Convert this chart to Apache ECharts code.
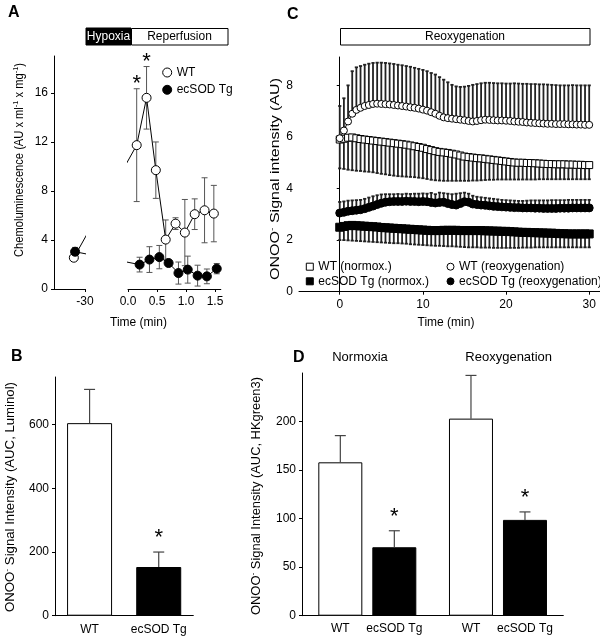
<!DOCTYPE html>
<html><head><meta charset="utf-8">
<script src="https://cdn.jsdelivr.net/npm/echarts@6/dist/echarts.min.js"></script>
<style>html,body{margin:0;padding:0;background:#fff}#c{width:600px;height:637px}</style>
</head><body><div id="c"></div>
<script>
// ---------- Panel A data ----------
const aTimeWT = [-31.8, 0.15, 0.32, 0.48, 0.65, 0.82, 0.98, 1.15, 1.32, 1.48];
const aWT     = [2.55, 11.73, 15.59, 9.69, 4.03, 5.33, 4.6, 6.1, 6.42, 6.15];
const aWTsd   = [0.2, 4.6, 2.55, 2.3, 1.6, 0.48, 2.7, 1.25, 2.65, 2.3];
const aTimeTg = [-31.6, 0.2, 0.37, 0.54, 0.7, 0.87, 1.03, 1.2, 1.36, 1.53];
const aTg     = [3.04, 1.99, 2.4, 2.6, 2.12, 1.3, 1.58, 1.09, 1.03, 1.66];
const aTgSd   = [0.35, 0.6, 1.05, 0.95, 0.15, 0.9, 1.1, 0.85, 0.6, 0.42];
const aStarWT = [1, 2];
const aXTicksLeft = [-30];
const aXTicksRight = [0, 0.5, 1.0, 1.5];
const aYTicks = [0, 4, 8, 12, 16];

// ---------- Panel C data ----------
const cTime = [0,0.5,1,1.5,2,2.5,3,3.5,4,4.5,5,5.5,6,6.5,7,7.5,8,8.5,9,9.5,10,10.5,11,11.5,12,12.5,13,13.5,14,14.5,15,15.5,16,16.5,17,17.5,18,18.5,19,19.5,20,20.5,21,21.5,22,22.5,23,23.5,24,24.5,25,25.5,26,26.5,27,27.5,28,28.5,29,29.5,30];
const cWTreox = [5.95,6.25,6.6,6.9,7.05,7.13,7.2,7.24,7.28,7.29,
 7.28,7.27,7.26,7.24,7.22,7.2,7.18,7.15,7.13,7.1,
 7.06,7.02,6.96,6.9,6.82,6.76,6.73,6.71,6.69,6.67,
 6.65,6.62,6.6,6.62,6.65,6.67,6.66,6.65,6.64,6.64,
 6.63,6.62,6.6,6.59,6.58,6.56,6.55,6.54,6.53,6.52,
 6.51,6.51,6.5,6.5,6.5,6.49,6.49,6.48,6.48,6.47,6.47];
const cWTreoxTop = [7.2,7.5,8.0,8.55,8.7,8.75,8.8,8.84,8.87,8.88,
 8.88,8.87,8.85,8.83,8.8,8.78,8.75,8.72,8.68,8.64,
 8.6,8.55,8.48,8.42,8.32,8.22,8.12,8.02,7.96,7.94,
 7.95,7.98,8.02,8.05,8.08,8.1,8.1,8.09,8.08,8.08,
 8.07,8.07,8.08,8.07,8.06,8.06,8.05,8.05,8.04,8.04,
 8.03,8.02,8.01,8.0,8.0,8.0,8.01,8.0,8.0,8.0,8.0];
const cWTnorm = [5.9,5.93,5.97,5.98,5.95,5.92,5.9,5.88,5.86,5.84,
 5.82,5.8,5.78,5.76,5.74,5.72,5.7,5.67,5.64,5.61,
 5.58,5.53,5.49,5.45,5.42,5.4,5.38,5.35,5.32,5.28,
 5.24,5.22,5.2,5.18,5.17,5.15,5.13,5.11,5.09,5.07,
 5.05,5.03,5.01,5.0,5.0,4.99,4.99,4.98,4.97,4.96,
 4.95,4.95,4.94,4.94,4.94,4.93,4.93,4.92,4.92,4.91,4.91];
const cWTnormLow = [4.78,4.76,4.73,4.71,4.69,4.68,4.66,4.65,4.63,4.6,
 4.57,4.55,4.52,4.5,4.48,4.47,4.46,4.45,4.44,4.42,
 4.4,4.37,4.34,4.32,4.31,4.3,4.3,4.3,4.3,4.3,
 4.3,4.3,4.31,4.31,4.32,4.33,4.34,4.34,4.35,4.35,
 4.35,4.35,4.35,4.35,4.35,4.35,4.35,4.35,4.36,4.36,
 4.36,4.36,4.36,4.36,4.36,4.36,4.36,4.36,4.36,4.36,4.36];
const cTgReox = [3.05,3.08,3.12,3.14,3.16,3.18,3.22,3.27,3.32,3.38,
 3.43,3.47,3.49,3.5,3.5,3.5,3.51,3.5,3.5,3.49,
 3.5,3.49,3.46,3.44,3.46,3.47,3.42,3.38,3.36,3.42,
 3.49,3.47,3.4,3.38,3.36,3.35,3.33,3.31,3.3,3.29,
 3.28,3.27,3.26,3.26,3.25,3.25,3.25,3.24,3.24,3.23,
 3.23,3.23,3.23,3.24,3.24,3.24,3.25,3.25,3.25,3.25,3.25];
const cTgReoxTop = [3.48,3.5,3.53,3.54,3.55,3.56,3.6,3.65,3.7,3.74,
 3.77,3.78,3.78,3.78,3.79,3.78,3.8,3.79,3.8,3.8,
 3.81,3.8,3.83,3.78,3.84,3.82,3.8,3.78,3.8,3.82,
 3.84,3.8,3.72,3.68,3.66,3.64,3.62,3.6,3.58,3.56,
 3.55,3.54,3.53,3.52,3.52,3.53,3.54,3.54,3.54,3.54,
 3.54,3.55,3.55,3.55,3.55,3.56,3.56,3.56,3.56,3.56,3.56];
const cTgNorm = [2.5,2.53,2.56,2.57,2.56,2.55,2.54,2.53,2.52,2.51,
 2.49,2.48,2.47,2.46,2.45,2.44,2.43,2.42,2.41,2.4,
 2.39,2.38,2.37,2.37,2.37,2.38,2.38,2.38,2.38,2.37,
 2.37,2.37,2.37,2.37,2.37,2.36,2.36,2.35,2.35,2.34,
 2.34,2.33,2.32,2.31,2.3,2.3,2.29,2.29,2.28,2.28,
 2.27,2.27,2.26,2.25,2.25,2.24,2.24,2.24,2.24,2.24,2.24];
const cTgNormLow = [2.0,2.0,1.99,1.98,1.97,1.96,1.95,1.94,1.93,1.92,
 1.91,1.9,1.89,1.88,1.88,1.87,1.86,1.84,1.83,1.82,
 1.81,1.8,1.79,1.78,1.78,1.77,1.76,1.76,1.75,1.74,
 1.73,1.72,1.72,1.72,1.71,1.71,1.71,1.7,1.7,1.7,
 1.7,1.7,1.7,1.7,1.71,1.71,1.71,1.72,1.72,1.72,
 1.72,1.72,1.72,1.72,1.72,1.72,1.72,1.72,1.72,1.72,1.72];
const cXTicks = [0, 10, 20, 30];
const cYTicks = [0, 2, 4, 6, 8];

// ---------- Panel B data ----------
const bCats = ['WT', 'ecSOD Tg'];
const bMean = [605, 153];
const bSd = [106, 47];
const bStar = [false, true];
const bYTicks = [0, 200, 400, 600];

// ---------- Panel D data ----------
const dGroups = ['Normoxia', 'Reoxygenation'];
const dWT = [158, 203];
const dWTsd = [27.5, 44.5];
const dTg = [70.5, 98.7];
const dTgSd = [17, 8.2];
const dStarTg = [true, true];
const dYTicks = [0, 50, 100, 150, 200];

// ---------- layout / style ----------
const FF = '"Liberation Sans", Arial, Helvetica, sans-serif';
const GAL = {left: 54, top: 56, width: 31, height: 233, min: -35, max: -30};
const GAR = {left: 128, top: 56, width: 92.8, height: 233, min: 0, max: 1.6};
const GC  = {left: 299, top: 57, width: 301, height: 234.7};
const GB  = {left: 55, top: 377, width: 138.3, height: 238.7};
const GD  = {left: 302, top: 373, width: 261.3, height: 242.7};
const D_BAR_W = 44, D_GAP = 10;

const px = (g, v) => g.left + (v - g.min) / (g.max - g.min) * g.width;
const val = (g, p) => g.min + (p - g.left) / g.width * (g.max - g.min);

function errRender(o) {
  return function (params, api) {
    const x = api.value(0), lo = api.value(2), hi = api.value(3);
    const pl = api.coord([x, lo]), ph = api.coord([x, hi]);
    const cx = pl[0] + (o.offset || 0);
    const st = {stroke: o.color, lineWidth: o.width};
    const ch = [{type: 'line', shape: {x1: cx, y1: pl[1], x2: cx, y2: ph[1]}, style: st}];
    if (o.capHi) ch.push({type: 'line', shape: {x1: cx - o.cap, y1: ph[1], x2: cx + o.cap, y2: ph[1]}, style: st});
    if (o.capLo) ch.push({type: 'line', shape: {x1: cx - o.cap, y1: pl[1], x2: cx + o.cap, y2: pl[1]}, style: st});
    return {type: 'group', children: ch};
  };
}
function starRender(offset, gap) {
  return function (params, api) {
    const p = api.coord([api.value(0), api.value(1)]);
    return {type: 'text', x: p[0] + offset, y: p[1] - gap,
      style: {text: '*', fontSize: 22, fontFamily: FF, fill: '#000', align: 'center', verticalAlign: 'middle'}};
  };
}

const AXL = {show: true, lineStyle: {color: '#000', width: 1}};
function tick(vals) { return {show: true, length: 3, inside: false, lineStyle: {color: '#000', width: 1}, customValues: vals}; }
function lab(vals, margin, fmt) {
  const o = {color: '#000', fontSize: 12, fontFamily: FF, margin: margin, customValues: vals};
  if (fmt) o.formatter = fmt;
  return o;
}

// ---------- Panel A series ----------
const series = [];
function idxSplit(t) { const L = [], R = []; t.forEach((x, i) => (x < 0 ? L : R).push(i)); return {L, R}; }
function addA(name, t, m, sd, fill) {
  const {L, R} = idxSplit(t);
  [[L, 0], [R, 1]].forEach(([ids, gi]) => {
    series.push({type: 'custom', xAxisIndex: gi, yAxisIndex: gi, silent: true, z: 2,
      renderItem: errRender({color: '#555', width: 1, cap: 3, capHi: true, capLo: true}),
      data: ids.map(i => [t[i], m[i], m[i] - sd[i], m[i] + sd[i]])});
  });
  const lL = L[L.length - 1], fR = R[0];
  series.push({type: 'line', xAxisIndex: 0, yAxisIndex: 0, silent: true, symbol: 'none', z: 3, clip: true,
    lineStyle: {color: '#000', width: 1},
    data: [[t[lL], m[lL]], [val(GAL, px(GAR, t[fR])), m[fR]]]});
  series.push({type: 'line', xAxisIndex: 1, yAxisIndex: 1, silent: true, symbol: 'none', z: 3, clip: true,
    lineStyle: {color: '#000', width: 1},
    data: [[val(GAR, px(GAL, t[lL])), m[lL]], [t[fR], m[fR]]]});
  [[L, 0], [R, 1]].forEach(([ids, gi]) => {
    series.push({type: 'line', name: name, xAxisIndex: gi, yAxisIndex: gi, silent: true, z: 4,
      symbol: 'circle', symbolSize: 9, showAllSymbol: true,
      itemStyle: {color: fill, borderColor: '#000', borderWidth: 1},
      lineStyle: {color: '#000', width: 1},
      data: ids.map(i => [t[i], m[i]])});
  });
}
addA('WT', aTimeWT, aWT, aWTsd, '#fff');
addA('ecSOD Tg', aTimeTg, aTg, aTgSd, '#000');
series.push({type: 'custom', xAxisIndex: 1, yAxisIndex: 1, silent: true, z: 5,
  renderItem: starRender(0, 5),
  data: aStarWT.map(i => [aTimeWT[i], aWT[i] + aWTsd[i]])});

// ---------- Panel C series ----------
function addCErr(m, end, up) {
  series.push({type: 'custom', xAxisIndex: 2, yAxisIndex: 2, silent: true, z: 2,
    renderItem: errRender({color: '#222', width: 1.8, cap: 1.6, capHi: up, capLo: !up}),
    data: cTime.map((x, i) => up ? [x, m[i], m[i], end[i]] : [x, m[i], end[i], m[i]])});
}
addCErr(cWTreox, cWTreoxTop, true);
addCErr(cWTnorm, cWTnormLow, false);
addCErr(cTgReox, cTgReoxTop, true);
addCErr(cTgNorm, cTgNormLow, false);
function addCLine(name, m, sym, size, fill) {
  series.push({type: 'line', name: name, xAxisIndex: 2, yAxisIndex: 2, silent: true, z: 4,
    symbol: sym, symbolSize: size, showAllSymbol: true,
    itemStyle: {color: fill, borderColor: '#000', borderWidth: 1},
    lineStyle: {color: '#000', width: 1},
    data: cTime.map((x, i) => [x, m[i]])});
}
addCLine('WT (normox.)', cWTnorm, 'rect', 7, '#fff');
addCLine('WT (reoxygenation)', cWTreox, 'circle', 7, '#fff');
addCLine('ecSOD Tg (reoxygenation)', cTgReox, 'circle', 8, '#000');
addCLine('ecSOD Tg (normox.)', cTgNorm, 'rect', 8, '#000');

// ---------- Panel B series ----------
const bFill = ['#fff', '#000'];
series.push({type: 'bar', xAxisIndex: 3, yAxisIndex: 3, silent: true, barWidth: 45,
  itemStyle: {borderColor: '#000', borderWidth: 1},
  data: bMean.map((v, i) => ({value: v, itemStyle: {color: bFill[i]}}))});
series.push({type: 'custom', xAxisIndex: 3, yAxisIndex: 3, silent: true, z: 3,
  renderItem: errRender({color: '#444', width: 1.2, cap: 5.5, capHi: true, capLo: false}),
  data: bCats.map((c, i) => [c, bMean[i], bMean[i], bMean[i] + bSd[i]])});
series.push({type: 'custom', xAxisIndex: 3, yAxisIndex: 3, silent: true, z: 3,
  renderItem: starRender(0, 14),
  data: bCats.map((c, i) => [c, bMean[i] + bSd[i]]).filter((d, i) => bStar[i])});

// ---------- Panel D series ----------
const dOff = (D_BAR_W + D_GAP) / 2;
[['WT', dWT, dWTsd, '#fff', -dOff, null], ['ecSOD Tg', dTg, dTgSd, '#000', dOff, dStarTg]].forEach(([nm, m, sd, fill, off, star]) => {
  series.push({type: 'bar', name: nm, xAxisIndex: 4, yAxisIndex: 4, silent: true, barWidth: D_BAR_W,
    barGap: (D_GAP / D_BAR_W * 100) + '%',
    itemStyle: {color: fill, borderColor: '#000', borderWidth: 1},
    label: {show: true, position: 'bottom', distance: 7, formatter: '{a}', color: '#000', fontSize: 12, fontFamily: FF},
    data: m});
  series.push({type: 'custom', xAxisIndex: 4, yAxisIndex: 4, silent: true, z: 3,
    renderItem: errRender({color: '#444', width: 1.2, cap: 5.5, capHi: true, capLo: false, offset: off}),
    data: dGroups.map((g, i) => [g, m[i], m[i], m[i] + sd[i]])});
  if (star) series.push({type: 'custom', xAxisIndex: 4, yAxisIndex: 4, silent: true, z: 3,
    renderItem: starRender(off, 14),
    data: dGroups.map((g, i) => [g, m[i] + sd[i]]).filter((d, i) => star[i])});
});

// ---------- text helpers ----------
const mctx = document.createElement('canvas').getContext('2d');
function measure(parts) {
  let w = 0;
  parts.forEach(([t, fs]) => { mctx.font = fs + 'px "Liberation Sans"'; w += mctx.measureText(t).width; });
  return w;
}
function yTitle(parts, cx, cy, target) {
  const text = parts.map(([t, fs]) => fs < 12 ? '{s|' + t + '}' : t).join('');
  return {type: 'text', x: cx, y: cy, rotation: Math.PI / 2, scaleX: target / measure(parts), silent: true,
    style: {text: text, fontSize: 12, fontFamily: FF, fill: '#000', align: 'center', verticalAlign: 'middle', lineHeight: 16,
      rich: {s: {fontSize: 8, fontFamily: FF, fill: '#000', verticalAlign: 'top', lineHeight: 8}}}};
}
function txt(s, x, y, opt) {
  return Object.assign({type: 'text', x: x, y: y, silent: true,
    style: Object.assign({text: s, fontSize: 12, fontFamily: FF, fill: '#000', align: 'center', verticalAlign: 'middle'}, opt || {})});
}
function letter(s, x, y) { return txt(s, x, y, {fontSize: 16, fontWeight: 'bold', align: 'left', verticalAlign: 'top'}); }

const graphic = [
  letter('A', 8, 4.6), letter('B', 11, 349), letter('C', 287, 6.2), letter('D', 293, 349.6),
  {type: 'rect', silent: true, shape: {x: 86, y: 28, width: 45, height: 17}, style: {fill: '#000', stroke: '#000', lineWidth: 1}},
  txt('Hypoxia', 108.5, 36.8, {fill: '#fff'}),
  {type: 'rect', silent: true, shape: {x: 131.5, y: 28.5, width: 96.5, height: 16.5}, style: {fill: '#fff', stroke: '#000', lineWidth: 1}},
  txt('Reperfusion', 179.5, 36.8),
  {type: 'rect', silent: true, shape: {x: 340.5, y: 28.5, width: 249.5, height: 16.5}, style: {fill: '#fff', stroke: '#000', lineWidth: 1}},
  txt('Reoxygenation', 465, 36.8),
  txt('Time (min)', 138.5, 323), txt('Time (min)', 446, 323),
  txt('Normoxia', 360, 357.7, {fontSize: 13}), txt('Reoxygenation', 508.7, 357.7, {fontSize: 13}),
  yTitle([['Chemoluminescence (AU x ml', 12], ['-1', 8], [' x mg', 12], ['-1', 8], [')', 12]], 20, 160, 194),
  yTitle([['ONOO', 12], ['-', 8], [' Signal intensity (AU)', 12]], 275.3, 179, 202),
  yTitle([['ONOO', 12], ['-', 8], [' Signal Intensity (AUC, Luminol)', 12]], 11, 497, 230),
  yTitle([['ONOO', 12], ['-', 8], [' Signal Intensity (AUC, HKgreen3)', 12]], 256.7, 496, 238)
];

const legendText = {fontSize: 12, fontFamily: FF, color: '#000'};
const option = {
  animation: false,
  grid: [GAL, GAR, GC, GB, GD].map(g => ({left: g.left, top: g.top, width: g.width, height: g.height, containLabel: false})),
  xAxis: [
    {type: 'value', gridIndex: 0, min: GAL.min, max: GAL.max, axisLine: AXL, axisTick: tick(aXTicksLeft), axisLabel: lab(aXTicksLeft, 7), splitLine: {show: false}},
    {type: 'value', gridIndex: 1, min: GAR.min, max: GAR.max, axisLine: AXL, axisTick: tick(aXTicksRight), axisLabel: lab(aXTicksRight, 7, v => v.toFixed(1)), splitLine: {show: false}},
    {type: 'value', gridIndex: 2, min: -4.9, max: 31.3, axisLine: AXL, axisTick: tick(cXTicks), axisLabel: lab(cXTicks, 7), splitLine: {show: false}},
    {type: 'category', gridIndex: 3, data: bCats, axisLine: AXL, axisTick: {show: false}, axisLabel: {color: '#000', fontSize: 12, fontFamily: FF, margin: 8, interval: 0, hideOverlap: false}},
    {type: 'category', gridIndex: 4, data: dGroups, axisLine: AXL, axisTick: {show: false}, axisLabel: {show: false}}
  ],
  yAxis: [
    {type: 'value', gridIndex: 0, min: 0, max: 19, axisLine: AXL, axisTick: tick(aYTicks), axisLabel: lab(aYTicks, 6), splitLine: {show: false}},
    {type: 'value', gridIndex: 1, min: 0, max: 19, show: false},
    {type: 'value', gridIndex: 2, min: 0, max: 9.1, axisLine: AXL, axisTick: tick(cYTicks), axisLabel: lab(cYTicks, 6), splitLine: {show: false}},
    {type: 'value', gridIndex: 3, min: 0, max: 750, axisLine: AXL, axisTick: tick(bYTicks), axisLabel: lab(bYTicks, 6), splitLine: {show: false}},
    {type: 'value', gridIndex: 4, min: 0, max: 250, axisLine: AXL, axisTick: tick(dYTicks), axisLabel: lab(dYTicks, 6), splitLine: {show: false}}
  ],
  legend: [
    {left: 162.2, top: 66.5, orient: 'vertical', padding: 0, itemGap: 5.3, itemWidth: 9, itemHeight: 9, selectedMode: false,
      textStyle: Object.assign({lineHeight: 9}, legendText),
      data: [{name: 'WT', icon: 'circle', itemStyle: {color: '#fff', borderColor: '#000', borderWidth: 1}},
             {name: 'ecSOD Tg', icon: 'circle', itemStyle: {color: '#000', borderColor: '#000', borderWidth: 1}}]},
    {left: 305.8, top: 260.7, orient: 'vertical', padding: 0, itemGap: 2.6, itemWidth: 7, itemHeight: 7, selectedMode: false,
      textStyle: Object.assign({lineHeight: 12}, legendText),
      data: [{name: 'WT (normox.)', icon: 'rect', itemStyle: {color: '#fff', borderColor: '#000', borderWidth: 1}},
             {name: 'ecSOD Tg (normox.)', icon: 'rect', itemStyle: {color: '#000', borderColor: '#000', borderWidth: 1}}]},
    {left: 446.5, top: 260.7, orient: 'vertical', padding: 0, itemGap: 2.6, itemWidth: 7, itemHeight: 7, selectedMode: false,
      textStyle: Object.assign({lineHeight: 12}, legendText),
      data: [{name: 'WT (reoxygenation)', icon: 'circle', itemStyle: {color: '#fff', borderColor: '#000', borderWidth: 1}},
             {name: 'ecSOD Tg (reoxygenation)', icon: 'circle', itemStyle: {color: '#000', borderColor: '#000', borderWidth: 1}}]}
  ],
  graphic: graphic,
  series: series
};
const chart = echarts.init(document.getElementById('c'), null, {renderer: 'canvas'});
chart.setOption(option);
</script>
</body></html>
